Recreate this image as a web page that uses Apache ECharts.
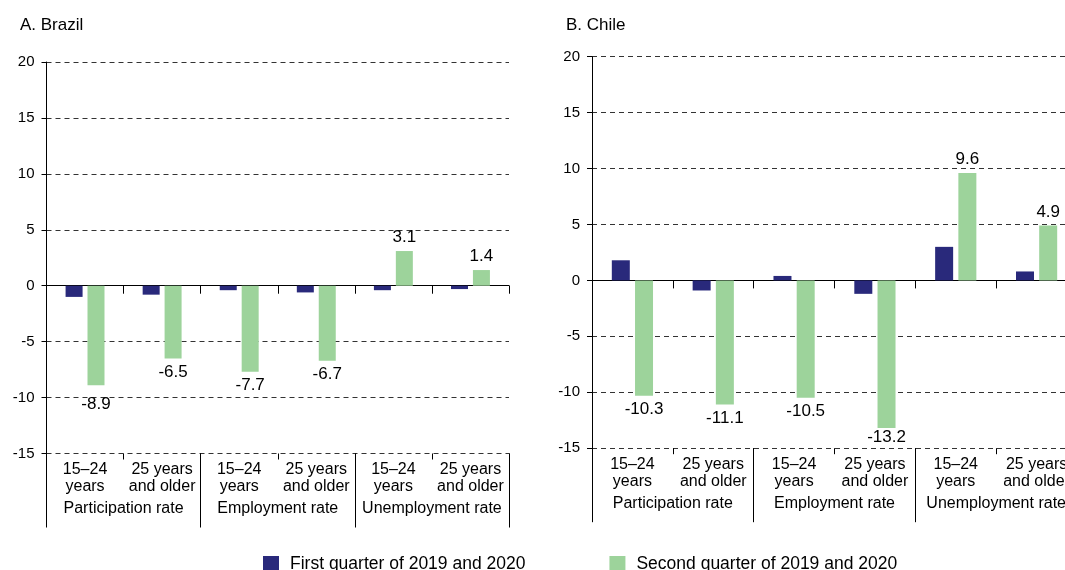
<!DOCTYPE html>
<html>
<head>
<meta charset="utf-8">
<script src="https://cdn.jsdelivr.net/npm/echarts@6/dist/echarts.min.js"></script>
<style>
  html, body { margin: 0; padding: 0; background: #ffffff; }
  #chart { width: 1065px; height: 570px; }
</style>
</head>
<body>
<div id="chart"></div>
<script>
// Age groups (inner category level) and rate groups (outer level)
const ageGroups = ['15–24\nyears', '25 years\nand older', '15–24\nyears', '25 years\nand older', '15–24\nyears', '25 years\nand older'];
const rateGroups = ['Participation rate', 'Employment rate', 'Unemployment rate'];
const seriesNames = ['First quarter of 2019 and 2020', 'Second quarter of 2019 and 2020'];
const panelTitles = ['A. Brazil', 'B. Chile'];

// Year-on-year change, percentage points
const brazilQ1 = [-1.0, -0.8, -0.4, -0.6, -0.4, -0.3];
const brazilQ2 = [-8.9, -6.5, -7.7, -6.7, 3.1, 1.4];
const chileQ1 = [1.8, -0.9, 0.4, -1.2, 3.0, 0.8];
const chileQ2 = [-10.3, -11.1, -10.5, -13.2, 9.6, 4.9];

// Value axis range
const yMin = -15;
const yMax = 20;
const yStep = 5;

const FONT = "'Liberation Sans', Arial, Helvetica, sans-serif";
const BLUE = '#29297b';
const GREEN = '#9dd39b';
const INK = '#000000';

// Layout of the two panels (the Chile panel runs slightly past the right edge)
const panels = [
  { title: panelTitles[0], q1: brazilQ1, q2: brazilQ2, titleLeft: 20,
    grid: { left: 46.5, top: 62, width: 462.5, height: 391.5 }, barWidth: 17,
    labelDistance: { 0: 11 } },
  { title: panelTitles[1], q1: chileQ1, q2: chileQ2, titleLeft: 566,
    grid: { left: 592, top: 56.7, width: 485, height: 391.5 }, barWidth: 18,
    labelDistance: { 3: 1 } }
];

const grids = [];
const xAxes = [];
const yAxes = [];
const series = [];
const titles = [];

panels.forEach(function (p, i) {
  grids.push(Object.assign({ containLabel: false, outerBoundsMode: 'none' }, p.grid));
  titles.push({
    text: p.title, left: p.titleLeft, top: 17, padding: 0,
    textStyle: { fontFamily: FONT, fontSize: 17, fontWeight: 'normal', color: INK }
  });

  // Axis sitting on the zero line: line plus downward ticks between bars
  xAxes.push({
    type: 'category', gridIndex: i, data: ageGroups, position: 'bottom',
    axisLine: { show: true, onZero: true, lineStyle: { color: INK, width: 1 } },
    axisTick: { show: true, length: 8, lineStyle: { color: INK } },
    axisLabel: { show: false }, splitLine: { show: false }
  });
  // Age-group labels under the plot area
  xAxes.push({
    type: 'category', gridIndex: i, data: ageGroups, position: 'bottom',
    axisLine: { show: false, onZero: false },
    axisTick: { show: true, length: 6, lineStyle: { color: INK } },
    axisLabel: { show: true, interval: 0, margin: 8, fontFamily: FONT, fontSize: 16,
                 lineHeight: 17, color: INK, align: 'center' },
    splitLine: { show: false }
  });
  // Rate-group labels with long separators between groups
  xAxes.push({
    type: 'category', gridIndex: i, data: rateGroups, position: 'bottom',
    axisLine: { show: false, onZero: false },
    axisTick: { show: true, length: 74, lineStyle: { color: INK, width: 1 } },
    axisLabel: { show: true, interval: 0, margin: 47, fontFamily: FONT, fontSize: 16,
                 lineHeight: 17, color: INK },
    splitLine: { show: false }
  });

  yAxes.push({
    type: 'value', gridIndex: i, min: yMin, max: yMax, interval: yStep,
    axisLine: { show: true, lineStyle: { color: INK, width: 1 } },
    axisTick: { show: true, length: 5, lineStyle: { color: INK } },
    axisLabel: { fontFamily: FONT, fontSize: 15, color: INK, margin: 12 },
    splitLine: { show: true, lineStyle: { color: '#333333', type: [5, 4], width: 1 } }
  });

  const xIdx = i * 3;
  series.push({
    name: seriesNames[0], type: 'bar', xAxisIndex: xIdx, yAxisIndex: i,
    data: p.q1, barWidth: p.barWidth, barGap: '29%',
    itemStyle: { color: BLUE },
    label: { show: false }
  });
  series.push({
    name: seriesNames[1], type: 'bar', xAxisIndex: xIdx, yAxisIndex: i,
    data: p.q2.map(function (v, k) {
      const item = { value: v };
      if (p.labelDistance[k] !== undefined) item.label = { distance: p.labelDistance[k] };
      return item;
    }),
    barWidth: p.barWidth, barGap: '29%',
    itemStyle: { color: GREEN },
    label: {
      show: true, position: 'outside', distance: 5,
      fontFamily: FONT, fontSize: 17, color: INK,
      formatter: function (d) { return d.value.toFixed(1); }
    }
  });
});

const chart = echarts.init(document.getElementById('chart'), null, { renderer: 'canvas' });
chart.setOption({
  animation: false,
  backgroundColor: '#ffffff',
  title: titles,
  legend: {
    data: seriesNames, left: 263, top: 555, padding: 0,
    icon: 'rect', itemWidth: 16, itemHeight: 16, itemGap: 84,
    textStyle: { fontFamily: FONT, fontSize: 17.5, color: INK, padding: [0, 0, 0, 6] }
  },
  grid: grids,
  xAxis: xAxes,
  yAxis: yAxes,
  series: series
});
</script>
</body>
</html>
